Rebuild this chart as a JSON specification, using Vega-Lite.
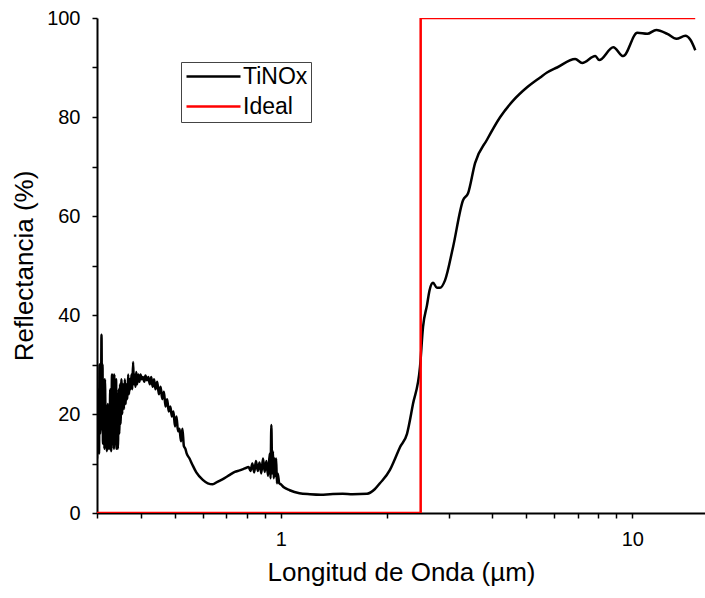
{
  "$schema": "https://vega.github.io/schema/vega-lite/v6.json",
  "width": 608,
  "height": 495,
  "autosize": {"type": "none"},
  "padding": {"left": 97, "top": 18, "right": 0, "bottom": 85},
  "background": "white",
  "config": {
    "font": "Liberation Sans",
    "view": {"stroke": null},
    "axis": {
      "domainColor": "black",
      "domainWidth": 2,
      "tickColor": "black",
      "tickWidth": 1.5,
      "labelColor": "black",
      "titleColor": "black",
      "labelFont": "Liberation Sans",
      "titleFont": "Liberation Sans",
      "labelFontSize": 20,
      "titleFontSize": 26,
      "titleFontWeight": "normal",
      "grid": false
    },
    "legend": {
      "labelFont": "Liberation Sans",
      "labelFontSize": 23,
      "labelColor": "black"
    }
  },
  "datasets": {
    "tinox": [
      {"x": 0.300, "y": 11, "series": "TiNOx"},
      {"x": 0.301, "y": 20, "series": "TiNOx"},
      {"x": 0.302, "y": 14, "series": "TiNOx"},
      {"x": 0.303, "y": 25, "series": "TiNOx"},
      {"x": 0.304, "y": 12, "series": "TiNOx"},
      {"x": 0.305, "y": 30, "series": "TiNOx"},
      {"x": 0.306, "y": 16, "series": "TiNOx"},
      {"x": 0.308, "y": 22, "series": "TiNOx"},
      {"x": 0.309, "y": 36, "series": "TiNOx"},
      {"x": 0.310, "y": 20, "series": "TiNOx"},
      {"x": 0.311, "y": 30, "series": "TiNOx"},
      {"x": 0.312, "y": 14, "series": "TiNOx"},
      {"x": 0.314, "y": 24, "series": "TiNOx"},
      {"x": 0.315, "y": 13, "series": "TiNOx"},
      {"x": 0.316, "y": 27, "series": "TiNOx"},
      {"x": 0.318, "y": 14, "series": "TiNOx"},
      {"x": 0.319, "y": 20, "series": "TiNOx"},
      {"x": 0.320, "y": 12.5, "series": "TiNOx"},
      {"x": 0.322, "y": 22, "series": "TiNOx"},
      {"x": 0.323, "y": 13, "series": "TiNOx"},
      {"x": 0.324, "y": 20, "series": "TiNOx"},
      {"x": 0.326, "y": 13, "series": "TiNOx"},
      {"x": 0.327, "y": 25, "series": "TiNOx"},
      {"x": 0.329, "y": 12.5, "series": "TiNOx"},
      {"x": 0.331, "y": 28, "series": "TiNOx"},
      {"x": 0.332, "y": 14, "series": "TiNOx"},
      {"x": 0.333, "y": 17, "series": "TiNOx"},
      {"x": 0.335, "y": 13, "series": "TiNOx"},
      {"x": 0.336, "y": 28, "series": "TiNOx"},
      {"x": 0.338, "y": 14, "series": "TiNOx"},
      {"x": 0.340, "y": 27, "series": "TiNOx"},
      {"x": 0.341, "y": 13, "series": "TiNOx"},
      {"x": 0.342, "y": 22, "series": "TiNOx"},
      {"x": 0.344, "y": 13, "series": "TiNOx"},
      {"x": 0.346, "y": 25, "series": "TiNOx"},
      {"x": 0.347, "y": 16, "series": "TiNOx"},
      {"x": 0.349, "y": 26, "series": "TiNOx"},
      {"x": 0.350, "y": 18, "series": "TiNOx"},
      {"x": 0.352, "y": 27, "series": "TiNOx"},
      {"x": 0.354, "y": 20, "series": "TiNOx"},
      {"x": 0.356, "y": 26, "series": "TiNOx"},
      {"x": 0.358, "y": 21, "series": "TiNOx"},
      {"x": 0.360, "y": 27, "series": "TiNOx"},
      {"x": 0.362, "y": 22, "series": "TiNOx"},
      {"x": 0.364, "y": 26, "series": "TiNOx"},
      {"x": 0.366, "y": 23, "series": "TiNOx"},
      {"x": 0.368, "y": 28, "series": "TiNOx"},
      {"x": 0.370, "y": 24, "series": "TiNOx"},
      {"x": 0.372, "y": 27, "series": "TiNOx"},
      {"x": 0.374, "y": 25, "series": "TiNOx"},
      {"x": 0.376, "y": 28, "series": "TiNOx"},
      {"x": 0.378, "y": 25, "series": "TiNOx"},
      {"x": 0.380, "y": 30.5, "series": "TiNOx"},
      {"x": 0.382, "y": 26, "series": "TiNOx"},
      {"x": 0.384, "y": 28, "series": "TiNOx"},
      {"x": 0.386, "y": 25.5, "series": "TiNOx"},
      {"x": 0.388, "y": 28.5, "series": "TiNOx"},
      {"x": 0.390, "y": 26, "series": "TiNOx"},
      {"x": 0.393, "y": 28, "series": "TiNOx"},
      {"x": 0.396, "y": 26.5, "series": "TiNOx"},
      {"x": 0.399, "y": 28, "series": "TiNOx"},
      {"x": 0.402, "y": 27, "series": "TiNOx"},
      {"x": 0.405, "y": 27.5, "series": "TiNOx"},
      {"x": 0.409, "y": 26.5, "series": "TiNOx"},
      {"x": 0.412, "y": 27.8, "series": "TiNOx"},
      {"x": 0.416, "y": 26.8, "series": "TiNOx"},
      {"x": 0.420, "y": 27.5, "series": "TiNOx"},
      {"x": 0.424, "y": 26, "series": "TiNOx"},
      {"x": 0.428, "y": 27.5, "series": "TiNOx"},
      {"x": 0.432, "y": 25.5, "series": "TiNOx"},
      {"x": 0.436, "y": 27, "series": "TiNOx"},
      {"x": 0.440, "y": 25, "series": "TiNOx"},
      {"x": 0.445, "y": 26.5, "series": "TiNOx"},
      {"x": 0.450, "y": 24, "series": "TiNOx"},
      {"x": 0.455, "y": 25.5, "series": "TiNOx"},
      {"x": 0.460, "y": 23, "series": "TiNOx"},
      {"x": 0.465, "y": 24.5, "series": "TiNOx"},
      {"x": 0.470, "y": 21.5, "series": "TiNOx"},
      {"x": 0.475, "y": 23, "series": "TiNOx"},
      {"x": 0.480, "y": 20.5, "series": "TiNOx"},
      {"x": 0.485, "y": 21.5, "series": "TiNOx"},
      {"x": 0.490, "y": 19.5, "series": "TiNOx"},
      {"x": 0.495, "y": 20.5, "series": "TiNOx"},
      {"x": 0.500, "y": 17.5, "series": "TiNOx"},
      {"x": 0.505, "y": 19.5, "series": "TiNOx"},
      {"x": 0.510, "y": 16.5, "series": "TiNOx"},
      {"x": 0.515, "y": 17, "series": "TiNOx"},
      {"x": 0.520, "y": 14.5, "series": "TiNOx"},
      {"x": 0.525, "y": 17, "series": "TiNOx"},
      {"x": 0.530, "y": 13.5, "series": "TiNOx"},
      {"x": 0.535, "y": 13, "series": "TiNOx"},
      {"x": 0.540, "y": 12, "series": "TiNOx"},
      {"x": 0.550, "y": 11, "series": "TiNOx"},
      {"x": 0.560, "y": 9.8, "series": "TiNOx"},
      {"x": 0.575, "y": 8.2, "series": "TiNOx"},
      {"x": 0.600, "y": 6.7, "series": "TiNOx"},
      {"x": 0.620, "y": 6.0, "series": "TiNOx"},
      {"x": 0.640, "y": 5.8, "series": "TiNOx"},
      {"x": 0.660, "y": 6.3, "series": "TiNOx"},
      {"x": 0.690, "y": 7.0, "series": "TiNOx"},
      {"x": 0.716, "y": 7.7, "series": "TiNOx"},
      {"x": 0.740, "y": 8.3, "series": "TiNOx"},
      {"x": 0.764, "y": 8.6, "series": "TiNOx"},
      {"x": 0.790, "y": 9.0, "series": "TiNOx"},
      {"x": 0.810, "y": 9.3, "series": "TiNOx"},
      {"x": 0.820, "y": 8.5, "series": "TiNOx"},
      {"x": 0.830, "y": 10, "series": "TiNOx"},
      {"x": 0.840, "y": 8.2, "series": "TiNOx"},
      {"x": 0.850, "y": 10.5, "series": "TiNOx"},
      {"x": 0.860, "y": 8.5, "series": "TiNOx"},
      {"x": 0.870, "y": 10.2, "series": "TiNOx"},
      {"x": 0.880, "y": 8, "series": "TiNOx"},
      {"x": 0.890, "y": 11, "series": "TiNOx"},
      {"x": 0.900, "y": 8.3, "series": "TiNOx"},
      {"x": 0.910, "y": 10.5, "series": "TiNOx"},
      {"x": 0.920, "y": 7.5, "series": "TiNOx"},
      {"x": 0.930, "y": 12, "series": "TiNOx"},
      {"x": 0.935, "y": 7, "series": "TiNOx"},
      {"x": 0.940, "y": 17.8, "series": "TiNOx"},
      {"x": 0.945, "y": 8, "series": "TiNOx"},
      {"x": 0.950, "y": 12.5, "series": "TiNOx"},
      {"x": 0.955, "y": 7, "series": "TiNOx"},
      {"x": 0.960, "y": 11, "series": "TiNOx"},
      {"x": 0.965, "y": 7.5, "series": "TiNOx"},
      {"x": 0.970, "y": 11, "series": "TiNOx"},
      {"x": 0.975, "y": 6, "series": "TiNOx"},
      {"x": 0.980, "y": 8, "series": "TiNOx"},
      {"x": 0.990, "y": 6, "series": "TiNOx"},
      {"x": 1.000, "y": 5.8, "series": "TiNOx"},
      {"x": 1.020, "y": 5.2, "series": "TiNOx"},
      {"x": 1.060, "y": 4.6, "series": "TiNOx"},
      {"x": 1.130, "y": 4.0, "series": "TiNOx"},
      {"x": 1.210, "y": 3.8, "series": "TiNOx"},
      {"x": 1.300, "y": 3.7, "series": "TiNOx"},
      {"x": 1.380, "y": 3.8, "series": "TiNOx"},
      {"x": 1.500, "y": 3.9, "series": "TiNOx"},
      {"x": 1.600, "y": 3.8, "series": "TiNOx"},
      {"x": 1.760, "y": 3.9, "series": "TiNOx"},
      {"x": 1.850, "y": 4.8, "series": "TiNOx"},
      {"x": 1.914, "y": 6, "series": "TiNOx"},
      {"x": 2.044, "y": 8.7, "series": "TiNOx"},
      {"x": 2.100, "y": 10.5, "series": "TiNOx"},
      {"x": 2.183, "y": 13.3, "series": "TiNOx"},
      {"x": 2.286, "y": 16, "series": "TiNOx"},
      {"x": 2.377, "y": 22, "series": "TiNOx"},
      {"x": 2.489, "y": 29.5, "series": "TiNOx"},
      {"x": 2.539, "y": 37.6, "series": "TiNOx"},
      {"x": 2.606, "y": 42, "series": "TiNOx"},
      {"x": 2.650, "y": 45, "series": "TiNOx"},
      {"x": 2.711, "y": 46.5, "series": "TiNOx"},
      {"x": 2.780, "y": 45.5, "series": "TiNOx"},
      {"x": 2.838, "y": 45.5, "series": "TiNOx"},
      {"x": 2.932, "y": 47, "series": "TiNOx"},
      {"x": 3.090, "y": 53.7, "series": "TiNOx"},
      {"x": 3.300, "y": 63.2, "series": "TiNOx"},
      {"x": 3.410, "y": 64.6, "series": "TiNOx"},
      {"x": 3.570, "y": 70.7, "series": "TiNOx"},
      {"x": 3.860, "y": 75.4, "series": "TiNOx"},
      {"x": 4.210, "y": 80, "series": "TiNOx"},
      {"x": 4.580, "y": 83.3, "series": "TiNOx"},
      {"x": 5.020, "y": 86, "series": "TiNOx"},
      {"x": 5.470, "y": 88, "series": "TiNOx"},
      {"x": 5.720, "y": 89, "series": "TiNOx"},
      {"x": 6.110, "y": 90, "series": "TiNOx"},
      {"x": 6.880, "y": 91.7, "series": "TiNOx"},
      {"x": 7.200, "y": 90.9, "series": "TiNOx"},
      {"x": 7.850, "y": 92.3, "series": "TiNOx"},
      {"x": 8.050, "y": 91.5, "series": "TiNOx"},
      {"x": 8.830, "y": 94.1, "series": "TiNOx"},
      {"x": 9.420, "y": 92.3, "series": "TiNOx"},
      {"x": 10.33, "y": 97, "series": "TiNOx"},
      {"x": 11.03, "y": 96.8, "series": "TiNOx"},
      {"x": 11.70, "y": 97.6, "series": "TiNOx"},
      {"x": 12.58, "y": 96.8, "series": "TiNOx"},
      {"x": 13.35, "y": 95.8, "series": "TiNOx"},
      {"x": 14.16, "y": 96.4, "series": "TiNOx"},
      {"x": 14.63, "y": 95.6, "series": "TiNOx"},
      {"x": 15.11, "y": 93.5, "series": "TiNOx"}
    ],
    "ideal": [
      {"x": 0.3, "y": 0, "series": "Ideal"},
      {"x": 2.5, "y": 0, "series": "Ideal"},
      {"x": 2.5, "y": 100, "series": "Ideal"},
      {"x": 15.1, "y": 100, "series": "Ideal"}
    ]
  },
  "encoding": {
    "x": {
      "field": "x",
      "type": "quantitative",
      "scale": {"type": "log", "domain": [0.3, 16.1], "nice": false},
      "axis": {
        "title": "Longitud de Onda (µm)",
        "values": [0.3, 0.4, 0.5, 0.6, 0.7, 0.8, 0.9, 1, 2, 3, 4, 5, 6, 7, 8, 9, 10],
        "labelExpr": "(datum.value > 0.95 && datum.value < 1.05) || datum.value > 9.5 ? format(datum.value, 'd') : ''",
        "tickSize": 5,
        "labelPadding": 11,
        "titlePadding": 10,
        "labelFlush": false,
        "labelOverlap": false,
        "encode": {
          "ticks": {
            "update": {
              "y2": {"signal": "(datum.value > 0.95 && datum.value < 1.05) || datum.value > 9.5 ? 8 : 5"}
            }
          }
        }
      }
    },
    "y": {
      "field": "y",
      "type": "quantitative",
      "scale": {"domain": [0, 100], "nice": false, "zero": false},
      "axis": {
        "title": "Reflectancia (%)",
        "values": [0, 10, 20, 30, 40, 50, 60, 70, 80, 90, 100],
        "labelExpr": "datum.value % 20 == 0 ? datum.label : ''",
        "tickSize": 5,
        "labelPadding": 12,
        "titlePadding": 9,
        "labelFlush": false,
        "labelOverlap": false,
        "encode": {
          "ticks": {
            "update": {
              "x2": {"signal": "datum.value % 20 == 0 ? -10 : -5"}
            }
          }
        }
      }
    },
    "color": {
      "field": "series",
      "type": "nominal",
      "scale": {"domain": ["TiNOx", "Ideal"], "range": ["#000000", "#ff0000"]},
      "legend": {
        "title": null,
        "orient": "none",
        "legendX": 84,
        "legendY": 44,
        "strokeColor": "#444444",
        "padding": 3,
        "symbolType": "M-1,0H5",
        "symbolSize": 324,
        "symbolStrokeWidth": 2.5,
        "labelOffset": 36,
        "rowPadding": 6
      }
    }
  },
  "layer": [
    {"data": {"name": "tinox"}, "mark": {"type": "line", "strokeWidth": 2.5, "clip": true, "interpolate": "monotone"}},
    {"data": {"name": "ideal"}, "mark": {"type": "line", "strokeWidth": 2.5, "clip": true}}
  ]
}
